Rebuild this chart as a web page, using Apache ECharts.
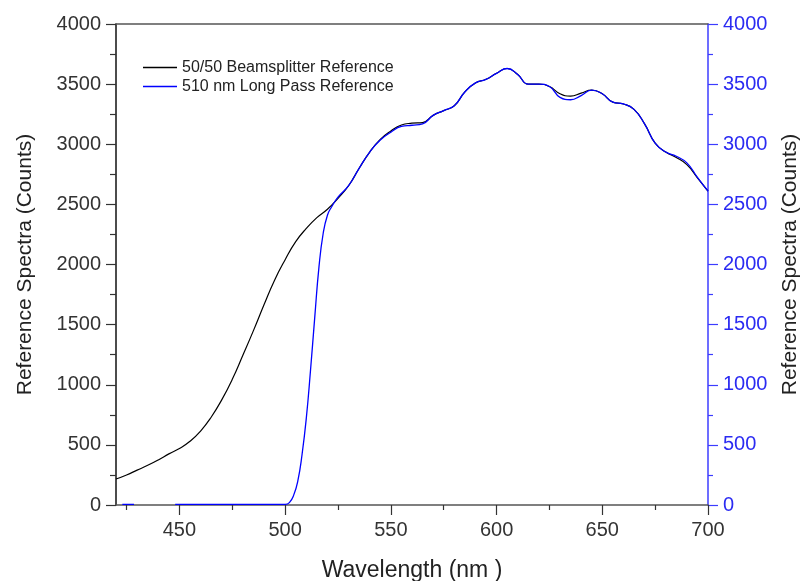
<!DOCTYPE html>
<html>
<head>
<meta charset="utf-8">
<script src="https://cdn.jsdelivr.net/npm/echarts@6/dist/echarts.min.js"></script>
<style>
html,body{margin:0;padding:0;background:#fff;}
#chart{width:804px;height:581px;}
</style>
</head>
<body>
<div id="chart"></div>
<script>
// ---- Data ----
const seriesNames = ['50/50 Beamsplitter Reference', '510 nm Long Pass Reference'];

const wavelengthsBlack = [420,425,430,435,440,445,450,455,460,465,470,475,480,485,490,495,500,505,510,515,520,525,530,535,540,545,550,555,560,565,570,575,580,585,590,595,600,605,610,615,620,625,630,635,640,645,650,655,660,665,670,675,680,685,690,695,700];
const countsBlack = [216,250,290,330,375,425,470,530,615,730,874,1045,1245,1450,1665,1870,2040,2190,2300,2390,2460,2550,2655,2800,2935,3040,3110,3160,3175,3180,3240,3280,3320,3435,3510,3540,3590,3630,3580,3500,3500,3480,3420,3400,3425,3450,3420,3350,3335,3290,3170,3010,2935,2890,2830,2720,2610];

const wavelengthsBlue = [423,428.5,438,448,460,480,500,502,504,506,508,510,512,514,516,518,520,522,525,530,535,540,545,550,555,560,565,570,575,580,585,590,595,600,605,610,615,620,625,630,635,640,645,650,655,660,665,670,675,680,685,690,695,700];
const countsBlue = [5,5,null,5,5,5,5,20,80,200,420,720,1120,1560,1980,2260,2410,2480,2560,2655,2800,2935,3035,3100,3148,3158,3170,3240,3280,3320,3435,3510,3540,3590,3630,3580,3500,3500,3480,3390,3370,3405,3450,3420,3350,3335,3290,3170,3010,2935,2900,2845,2725,2610];

const xMajorTicks = [450,500,550,600,650,700];
const xMinorTicks = [425,475,525,575,625,675];
const xMin = 420, xMax = 700;
const yMin = 0, yMax = 4000, yStep = 500;

// ---- Chart ----
const zip = (xs, ys) => xs.map((x, i) => [x, ys[i]]);
const chart = echarts.init(document.getElementById('chart'), null, {renderer: 'canvas'});
const FONT = '"Liberation Sans", Arial, sans-serif';
const blueAxis = '#3c3cff';
const blueText = '#2b2bf2';
const plain = v => String(v);

chart.setOption({
  animation: false,
  backgroundColor: '#fff',
  grid: {left: 116, right: 96, top: 24, bottom: 76, outerBoundsMode: 'none', containLabel: false},
  legend: {
    orient: 'vertical',
    left: 138,
    top: 54,
    icon: 'rect',
    itemWidth: 34,
    itemHeight: 1.5,
    itemGap: 2,
    data: seriesNames,
    textStyle: {fontFamily: FONT, fontSize: 16, color: '#222', lineHeight: 17}
  },
  xAxis: [
    {
      type: 'value', position: 'bottom', min: xMin, max: xMax,
      name: 'Wavelength (nm )', nameLocation: 'middle', nameGap: 54,
      nameTextStyle: {fontFamily: FONT, fontSize: 23, color: '#222'},
      axisLine: {show: true, lineStyle: {color: '#555', width: 1.5}},
      axisTick: {show: true, inside: false, length: 10, customValues: xMajorTicks, lineStyle: {color: '#333', width: 1.2}},
      axisLabel: {show: true, customValues: xMajorTicks, margin: 15, formatter: plain, fontFamily: FONT, fontSize: 20, color: '#333'},
      splitLine: {show: false}
    },
    {
      type: 'value', position: 'bottom', min: xMin, max: xMax,
      axisLine: {show: false},
      axisTick: {show: true, inside: false, length: 5, customValues: xMinorTicks, lineStyle: {color: '#333', width: 1.2}},
      axisLabel: {show: false},
      splitLine: {show: false}
    },
    {
      type: 'value', position: 'top', min: xMin, max: xMax,
      axisLine: {show: true, lineStyle: {color: '#555', width: 1.5}},
      axisTick: {show: false},
      axisLabel: {show: false},
      splitLine: {show: false}
    }
  ],
  yAxis: [
    {
      type: 'value', position: 'left', min: yMin, max: yMax, interval: yStep,
      name: 'Reference Spectra (Counts)', nameLocation: 'middle', nameGap: 80,
      nameTextStyle: {fontFamily: FONT, fontSize: 21, color: '#222'},
      axisLine: {show: true, lineStyle: {color: '#111', width: 1.5}},
      axisTick: {show: true, inside: false, length: 10, lineStyle: {color: '#333', width: 1.2}},
      minorTick: {show: true, splitNumber: 2, length: 6, lineStyle: {color: '#333', width: 1.2}},
      axisLabel: {margin: 15, formatter: plain, fontFamily: FONT, fontSize: 20, color: '#333'},
      splitLine: {show: false}
    },
    {
      type: 'value', position: 'right', min: yMin, max: yMax, interval: yStep,
      name: 'Reference Spectra (Counts)', nameLocation: 'middle', nameGap: 72,
      nameTextStyle: {fontFamily: FONT, fontSize: 21, color: '#222'},
      axisLine: {show: true, lineStyle: {color: blueAxis, width: 1.5}},
      axisTick: {show: true, inside: false, length: 10, lineStyle: {color: blueAxis, width: 1.2}},
      minorTick: {show: true, splitNumber: 2, length: 5, lineStyle: {color: blueAxis, width: 1.2}},
      axisLabel: {margin: 15, formatter: plain, fontFamily: FONT, fontSize: 20, color: blueText},
      splitLine: {show: false}
    }
  ],
  series: [
    {
      name: seriesNames[0], type: 'line', xAxisIndex: 0, yAxisIndex: 0,
      data: zip(wavelengthsBlack, countsBlack),
      showSymbol: false, symbol: 'none', smooth: 0.5,
      lineStyle: {color: '#000', width: 1.2},
      itemStyle: {color: '#000'},
      z: 2
    },
    {
      name: seriesNames[1], type: 'line', xAxisIndex: 0, yAxisIndex: 1,
      data: zip(wavelengthsBlue, countsBlue),
      showSymbol: false, symbol: 'none', smooth: 0.5, connectNulls: false,
      lineStyle: {color: '#0000ff', width: 1.3},
      itemStyle: {color: '#0000ff'},
      z: 3
    }
  ]
});
</script>
</body>
</html>
